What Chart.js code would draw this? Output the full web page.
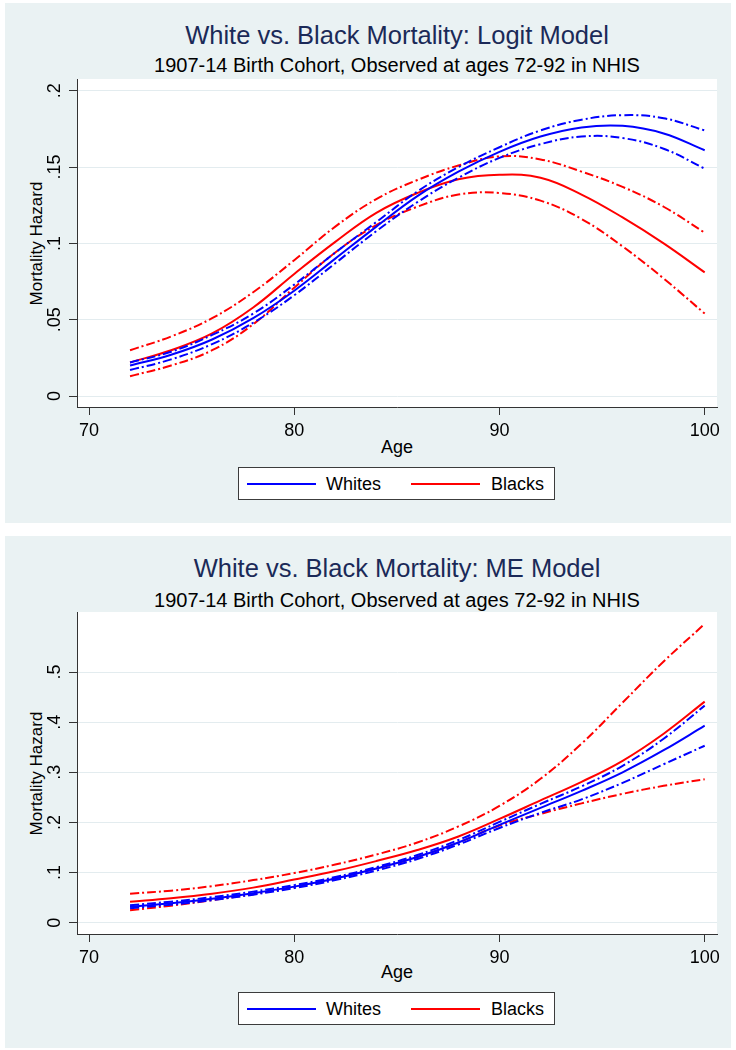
<!DOCTYPE html>
<html>
<head>
<meta charset="utf-8">
<script src="https://cdn.jsdelivr.net/npm/chart.js@4.4.1/dist/chart.umd.min.js"></script>
<style>
  body { margin: 0; width: 736px; height: 1050px; background: #fff; position: relative; overflow: hidden;
         font-family: 'Liberation Sans', Arial, sans-serif; }
  .panel { position: absolute; left: 5px; width: 726px; background: #eaf2f3; }
  .txt { position: absolute; left: 77px; width: 640px; text-align: center; line-height: 1; white-space: nowrap; }
  .title { font-size: 25.5px; color: #1b2a58; }
  .sub { font-size: 20px; color: #000; }
  .axt { font-size: 18px; color: #000; }
  .ytitle { position: absolute; left: -64px; width: 200px; text-align: center; font-size: 17px; line-height: 1;
            transform: rotate(-90deg); color: #000; white-space: nowrap; }
  .legend { position: absolute; left: 238px; width: 317px; height: 33px; box-sizing: border-box;
            border: 1px solid #3c3c3c; background: #fff; }
  .legend .ln { position: absolute; top: 14.5px; width: 69px; height: 2px; }
  .legend .lb { position: absolute; top: 6.5px; font-size: 18px; line-height: 1; color: #000; }
  canvas { position: absolute; left: 0; }
</style>
</head>
<body>
<div class="panel" style="top:3px; height:520px;"></div>
<div class="panel" style="top:536px; height:512px;"></div>

<div class="txt title" style="top:23.4px;">White vs. Black Mortality: Logit Model</div>
<div class="txt sub" style="top:54.8px;">1907-14 Birth Cohort, Observed at ages 72-92 in NHIS</div>
<div class="ytitle" style="top:234.5px;">Mortality Hazard</div>
<div class="txt axt" style="top:437.8px;">Age</div>
<div class="legend" style="top:467px;">
  <div class="ln" style="left:8px; background:#0000ff;"></div>
  <div class="lb" style="left:87px;">Whites</div>
  <div class="ln" style="left:172px; background:#ff0000;"></div>
  <div class="lb" style="left:252px;">Blacks</div>
</div>

<div class="txt title" style="top:555.7px;">White vs. Black Mortality: ME Model</div>
<div class="txt sub" style="top:589.8px;">1907-14 Birth Cohort, Observed at ages 72-92 in NHIS</div>
<div class="ytitle" style="top:764.5px;">Mortality Hazard</div>
<div class="txt axt" style="top:963.1px;">Age</div>
<div class="legend" style="top:992px;">
  <div class="ln" style="left:8px; background:#0000ff;"></div>
  <div class="lb" style="left:87px;">Whites</div>
  <div class="ln" style="left:172px; background:#ff0000;"></div>
  <div class="lb" style="left:252px;">Blacks</div>
</div>

<canvas id="logit" width="736" height="470" style="top:0px;"></canvas>
<canvas id="me" width="736" height="470" style="top:530px;"></canvas>

<script>
// ages on the x axis
const ages = [72, 74, 76, 78, 80, 82, 84, 86, 88, 90, 92, 94, 96, 98, 100];
const xTicks = [70, 80, 90, 100];

// Logit model: hazard with upper / lower bounds
const logitWhite   = [.020, .027, .037, .051, .069, .090, .111, .131, .147, .160, .170, .176, .177, .172, .161];
const logitWhiteHi = [.022, .029, .040, .054, .073, .094, .114, .134, .150, .163, .174, .181, .184, .182, .174];
const logitWhiteLo = [.017, .024, .034, .048, .066, .087, .108, .127, .143, .156, .165, .170, .169, .162, .149];
const logitBlack   = [.022, .030, .041, .058, .080, .101, .120, .133, .142, .145, .143, .132, .117, .100, .081];
const logitBlackHi = [.030, .039, .051, .068, .089, .111, .129, .1415, .151, .157, .155, .147, .137, .124, .107];
const logitBlackLo = [.013, .020, .030, .047, .071, .094, .112, .124, .132, .133, .128, .116, .098, .077, .054];
const logitYTicks  = [0, 0.05, 0.1, 0.15, 0.2];
const logitYLabels = ['0', '.05', '.1', '.15', '.2'];

// ME model
const meWhite   = [.032, .039, .048, .059, .072, .088, .108, .131, .160, .195, .229, .263, .300, .344, .393];
const meWhiteHi = [.035, .042, .051, .062, .075, .091, .111, .135, .165, .201, .237, .272, .313, .367, .433];
const meWhiteLo = [.029, .036, .045, .056, .069, .085, .104, .127, .156, .189, .219, .246, .279, .316, .353];
const meBlack   = [.042, .049, .058, .070, .086, .103, .123, .145, .172, .207, .244, .281, .323, .377, .441];
const meBlackHi = [.058, .064, .073, .085, .099, .116, .136, .160, .192, .233, .287, .357, .439, .521, .596];
const meBlackLo = [.025, .034, .045, .057, .071, .088, .108, .131, .160, .194, .217, .238, .257, .273, .286];
const meYTicks  = [0, 0.1, 0.2, 0.3, 0.4, 0.5];
const meYLabels = ['0', '.1', '.2', '.3', '.4', '.5'];

const FONT = "'Liberation Sans', Arial, sans-serif";
const DASHDOT = [9, 3, 2, 3];

// white plot region behind the lines
const plotBg = {
    id: 'plotBg',
    beforeDraw(chart) {
        const { ctx, chartArea: a } = chart;
        ctx.save();
        ctx.fillStyle = '#ffffff';
        ctx.fillRect(a.left, a.top, a.right - a.left, a.bottom - a.top);
        ctx.restore();
    }
};

function line(values, color, dashed) {
    return {
        data: ages.map((a, i) => ({ x: a, y: values[i] })),
        borderColor: color,
        borderWidth: 2,
        borderDash: dashed ? DASHDOT : [],
        pointRadius: 0,
        tension: 0.4,
        fill: false
    };
}

function makeChart(id, series, yMin, yMax, yTicks, yLabels, pad, labelPad) {
    new Chart(document.getElementById(id), {
        type: 'line',
        data: {
            datasets: [
                line(series[1], '#0000ff', true),
                line(series[2], '#0000ff', true),
                line(series[0], '#0000ff', false),
                line(series[4], '#ff0000', true),
                line(series[5], '#ff0000', true),
                line(series[3], '#ff0000', false)
            ]
        },
        options: {
            responsive: false,
            animation: false,
            devicePixelRatio: 1,
            layout: { padding: pad },
            plugins: { legend: { display: false }, tooltip: { enabled: false } },
            scales: {
                x: {
                    type: 'linear',
                    min: 69.415,
                    max: 100.6,
                    afterBuildTicks: s => { s.ticks = xTicks.map(v => ({ value: v })); },
                    afterFit: s => { s.height = 40; },
                    ticks: {
                        minRotation: 0, maxRotation: 0, padding: 5,
                        color: '#000', font: { family: FONT, size: 18 },
                        callback: v => String(v)
                    },
                    grid: { drawOnChartArea: false, tickLength: 8, tickColor: '#333' },
                    border: { color: '#333', width: 1 }
                },
                y: {
                    type: 'linear',
                    min: yMin,
                    max: yMax,
                    afterBuildTicks: s => { s.ticks = yTicks.map(v => ({ value: v })); },
                    afterFit: s => { s.width = 77; },
                    ticks: {
                        minRotation: 90, maxRotation: 90, crossAlign: 'center', padding: labelPad,
                        color: '#000', font: { family: FONT, size: 18 },
                        callback: v => yLabels[yTicks.indexOf(v)]
                    },
                    grid: { color: '#e3ecef', lineWidth: 1, tickLength: 8, tickColor: '#333' },
                    border: { color: '#333', width: 1 }
                }
            }
        },
        plugins: [plotBg]
    });
}

makeChart('logit',
    [logitWhite, logitWhiteHi, logitWhiteLo, logitBlack, logitBlackHi, logitBlackLo],
    -0.0072, 0.2077, logitYTicks, logitYLabels,
    { top: 79, right: 19, bottom: 23, left: 0 }, 1.5);

makeChart('me',
    [meWhite, meWhiteHi, meWhiteLo, meBlack, meBlackHi, meBlackLo],
    -0.0225, 0.6197, meYTicks, meYLabels,
    { top: 82, right: 19, bottom: 26, left: 0 }, 6.5);
</script>
</body>
</html>
